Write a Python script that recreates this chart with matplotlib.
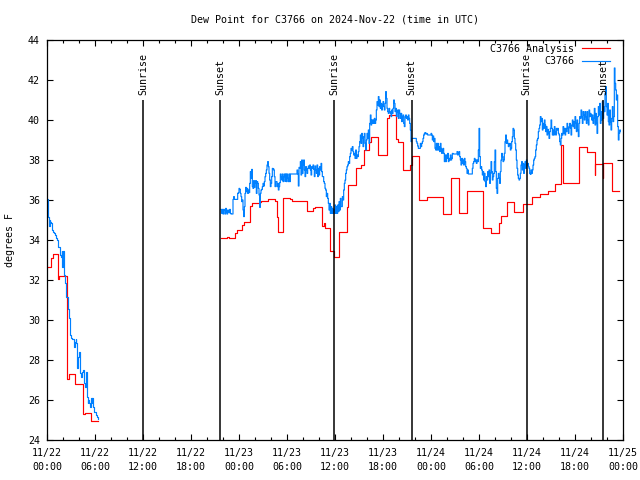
import matplotlib
matplotlib.use('Agg')
import matplotlib.pyplot as plt
import numpy as np
from matplotlib.ticker import MultipleLocator

plt.rcParams['font.family'] = ['DejaVu Sans Mono', 'DejaVu Sans']
FS = 7.2

title = "Dew Point for C3766 on 2024-Nov-22 (time in UTC)"
ylabel = "degrees F"
series_names = ["C3766 Analysis", "C3766"]

# x axis: hours since 11/22 00:00 UTC
x_tick_hours = [0, 6, 12, 18, 24, 30, 36, 42, 48, 54, 60, 66, 72]
x_tick_labels = ["11/22\n00:00", "11/22\n06:00", "11/22\n12:00", "11/22\n18:00",
                 "11/23\n00:00", "11/23\n06:00", "11/23\n12:00", "11/23\n18:00",
                 "11/24\n00:00", "11/24\n06:00", "11/24\n12:00", "11/24\n18:00",
                 "11/25\n00:00"]
y_ticks = [24, 26, 28, 30, 32, 34, 36, 38, 40, 42, 44]

sunrise_hours = [12.0, 35.92, 59.96]
sunset_hours = [21.65, 45.6, 69.55]

# Analysis (red) step series
red_a_t = [0.0, 0.45, 0.7, 1.38, 1.55, 2.55, 2.78, 3.55, 4.55, 4.8, 5.55, 6.4]
red_a_v = [32.63, 33.08, 33.28, 32.07, 32.18, 27.03, 27.28, 26.8, 25.3, 25.35, 24.95, 24.95]

red_b_t = [21.75, 22.5, 22.75, 23.5, 23.75, 24.4, 24.6, 25.4, 25.65, 26.6, 26.8, 27.65,
           28.5, 28.75, 28.85, 29.5, 30.4, 30.6, 32.5, 33.3, 33.5, 34.4, 34.6, 34.8,
           35.4, 35.9, 36.55, 37.5, 37.6, 38.6, 39.3, 39.6, 40.25, 40.5, 41.4, 42.5,
           42.75, 43.6, 43.9, 44.5, 45.4, 45.6, 46.45, 47.45, 49.5, 50.5, 51.5, 52.5,
           54.5, 55.45, 56.5, 56.7, 57.5, 58.4, 59.5, 60.6, 61.6, 62.6, 63.55, 64.3,
           64.45, 66.55, 67.45, 68.45, 68.55, 69.45, 69.55, 70.6, 71.45]
red_b_v = [34.08, 34.17, 34.12, 34.33, 34.5, 34.75, 34.92, 35.7, 35.83, 35.92, 35.97, 36.03,
           35.97, 35.17, 34.4, 36.12, 36.03, 35.97, 35.47, 35.58, 35.63, 34.7, 34.87, 34.6,
           33.45, 33.17, 34.4, 35.67, 36.75, 37.58, 37.75, 38.5, 38.92, 39.17, 38.25, 40.08,
           40.25, 39.03, 38.92, 37.5, 37.75, 38.2, 36.0, 36.17, 35.3, 37.08, 35.37, 36.47,
           34.58, 34.33, 34.87, 35.2, 35.92, 35.4, 35.8, 36.15, 36.28, 36.45, 36.8, 38.75,
           36.85, 38.63, 38.4, 37.25, 37.8, 37.1, 37.85, 36.45, 36.45]

# Observations (blue), one reading every 5 minutes
obs_step_h = 5.0 / 60.0
blue_a_start = 0.0
blue_a_v = [36.03, 35.75, 35.17, 34.7, 35.0, 34.92, 34.83, 34.67, 34.5, 34.42, 34.42, 34.37,
            34.25, 34.2, 34.1, 34.0, 33.67, 33.67, 33.63, 33.3, 33.25, 33.17, 33.45, 32.67,
            33.45, 32.5, 32.25, 31.83, 31.67, 31.17, 31.17, 30.58, 30.55, 30.08, 29.42, 29.25,
            29.08, 29.05, 29.03, 29.03, 29.0, 28.67, 28.92, 29.03, 28.83, 27.58, 28.0, 28.17,
            28.42, 28.17, 27.33, 27.17, 27.42, 27.42, 27.5, 26.92, 26.83, 26.67, 26.83, 27.42,
            26.17, 25.83, 26.0, 25.83, 25.67, 25.67, 26.08, 25.83, 26.08, 25.67, 25.5, 25.42,
            25.42, 25.42, 25.25, 25.17, 25.03]

blue_b_start = 21.75
blue_b_v = [
    # 11/22 evening
    35.53, 35.33, 35.53, 35.3, 35.53, 35.5, 35.3, 35.58, 35.42, 35.3, 35.5, 35.42, 35.37,
    35.53, 35.33, 35.3, 35.3, 35.3,
    36.03, 36.17, 36.03, 36.03, 36.03, 36.03, 36.03,
    36.33, 36.37, 36.58, 36.53, 36.33, 36.17, 35.92, 36.0, 35.5, 35.17, 35.67, 36.33, 36.63,
    36.42, 36.58, 36.33, 36.5,
    36.37, 36.83, 37.42, 37.08, 37.53, 36.67, 36.58, 36.97, 36.63, 36.83, 36.97, 36.33, 36.92,
    36.83, 36.58, 36.25, 35.63, 36.33, 36.5, 36.53, 36.67, 36.83, 36.7, 36.92, 37.17,
    37.33, 37.5, 37.75, 37.92, 37.67, 37.33, 37.0, 36.67, 36.83, 37.17, 37.58, 37.57, 37.5,
    37.17, 36.67, 36.92, 36.92, 36.67, 36.83, 36.5, 36.67, 36.87, 37.3, 37.17, 37.0,
    37.3, 36.92, 37.17, 37.3, 36.93, 37.3, 36.92, 37.3, 37.08, 36.92, 37.3, 36.92,
    37.3, 37.3, 37.3, 37.3, 37.3, 37.3, 37.3, 37.3, 37.3, 37.3, 37.5, 37.3, 36.7,
    37.63, 37.58, 37.92, 37.25, 38.0, 37.33, 37.75, 38.0, 37.5, 37.17, 37.67, 37.5, 37.33,
    37.58, 37.7, 37.58, 37.75, 37.5, 37.25, 37.67, 37.58, 37.75, 37.53, 37.17, 37.7,
    37.5, 37.33, 37.75, 37.17, 37.58, 37.25, 37.67, 37.5, 37.83, 37.42, 37.17, 37.17, 36.92,
    36.83, 36.58, 36.5, 36.17, 36.33, 36.08, 35.83, 35.5, 35.83, 35.33, 35.67, 35.33, 35.58,
    35.33, 35.5,
    # 11/23 day
    35.33, 35.75, 35.33, 35.67, 35.33, 35.75, 35.42, 35.92, 35.5, 36.08, 35.67, 35.67, 36.17,
    36.0, 36.5, 36.83, 37.0, 37.33, 37.5, 37.67, 37.75, 37.92, 37.83, 38.17, 38.33, 38.58,
    38.5, 38.67, 38.42, 38.25, 38.33, 38.08, 38.5, 38.08, 38.25, 38.17, 38.42,
    38.67, 38.92, 39.25, 38.83, 39.33, 39.08, 38.67, 39.17, 39.33, 38.83, 38.5, 39.0, 39.33,
    39.08, 39.5, 38.83, 39.83, 40.25, 39.75, 40.0, 39.83, 40.0, 39.83, 40.08, 39.83,
    40.0, 40.5, 40.92, 40.75, 41.17, 40.67, 41.0, 40.58, 40.83, 40.5, 40.75, 40.92, 40.67,
    40.5, 40.83, 41.42, 41.08, 40.58, 40.42, 40.33, 40.58, 40.42, 40.33, 40.17, 40.5,
    40.33, 40.58, 41.0, 40.83, 40.42, 40.58, 40.17, 40.42, 40.5, 40.08, 40.5, 40.33, 40.08,
    40.33, 39.92, 40.17, 40.25, 39.83, 39.67, 40.17, 40.25, 40.08, 40.17, 40.0, 40.25,
    40.08, 39.83, 39.5, 38.92, 39.08, 39.08, 39.08, 39.08, 39.08, 39.08, 39.08, 38.92, 38.83,
    38.7, 38.58, 38.58, 38.58,
    # 11/23 night - 11/24 morning
    38.83, 38.67, 38.83, 38.92, 39.08, 39.25, 39.33, 39.37, 39.3, 39.33, 39.3, 39.25, 39.25,
    39.25, 39.25, 39.25, 39.33, 39.25, 39.0, 39.2, 38.92, 39.08, 38.58,
    38.5, 38.83, 38.5, 38.83, 38.5, 38.67, 38.42, 38.83, 38.58, 38.33, 38.5, 38.58, 38.33,
    37.92, 38.25, 37.92, 38.25, 38.08, 38.33, 37.92, 38.08, 38.0, 38.25, 38.0, 38.08,
    38.33, 38.3, 38.3, 38.3, 38.3, 38.3, 38.3, 38.42, 38.25, 38.33, 38.42, 38.17, 38.0,
    37.75, 38.08, 37.83, 38.0, 37.75, 38.08, 37.92, 37.67, 37.58, 37.33, 37.5, 37.3,
    37.3, 37.3, 37.3, 37.3, 37.3, 37.58, 37.83, 37.92, 38.08, 37.92, 38.0, 37.83, 38.0,
    37.92, 38.5, 39.58, 38.17, 37.58, 37.67, 37.5, 37.25, 37.42, 37.0, 37.33, 36.92,
    36.67, 37.17, 37.0, 37.42, 37.17, 37.5, 36.83, 37.33, 37.92, 37.42, 37.0, 37.17, 37.33,
    37.92, 38.5, 37.42, 36.58, 36.33, 37.08, 37.33, 37.08, 36.83, 37.42, 38.0, 38.33,
    38.17, 37.92, 38.0, 38.33, 38.92, 39.25, 38.83, 39.0, 38.83, 38.67, 38.75, 38.83, 38.5,
    38.58, 38.92, 39.17, 39.58, 39.5, 39.08, 38.83, 38.5, 38.0, 37.58, 37.25, 37.08,
    37.0, 37.08, 37.33, 37.75, 37.92, 37.5, 37.83, 37.33, 37.75, 37.92, 37.58, 38.0, 37.75,
    37.83, 37.67, 37.58,
    # 11/24 day
    37.33, 37.28, 37.5, 37.33, 37.5, 37.75, 38.0, 38.08, 38.17, 38.5, 38.75, 39.0, 39.08,
    39.42, 39.58, 39.75, 40.17, 39.92, 40.08, 39.5, 39.83, 39.58, 40.0, 39.75, 39.42,
    39.67, 39.25, 39.53, 39.33, 39.08, 39.42, 39.58, 40.0, 39.58, 39.25, 39.5, 39.25, 39.67,
    39.42, 39.25, 39.58, 39.5, 39.58, 39.33, 39.25, 38.92, 38.75, 39.08, 39.33, 39.25,
    39.67, 39.33, 39.58, 39.25, 39.58, 39.42, 39.83, 39.58, 39.33, 39.67, 39.83, 39.58, 39.25,
    39.75, 40.0, 39.67, 39.92, 39.58, 40.17, 39.83, 39.42, 40.0, 39.5, 39.17, 39.83,
    40.17, 40.08, 40.5, 40.17, 39.83, 40.42, 40.25, 40.0, 40.42, 40.17, 39.83, 40.42, 40.0,
    39.75, 40.5, 40.17, 40.33, 40.25, 40.0, 40.25, 39.83, 40.08, 40.58, 39.75, 40.33,
    39.83, 39.33, 40.17, 40.67, 40.25, 40.83, 39.83, 40.42, 40.0, 40.92, 40.08, 40.67, 40.42,
    41.33, 41.67, 40.67, 40.25, 40.83, 39.92, 39.75, 40.5, 39.92, 39.5, 40.08, 40.67,
    39.92, 40.17, 42.6, 41.83, 41.5, 41.0, 41.25, 39.67, 39.0, 39.33, 39.5, 39.42,
]

RED = '#ff0000'
BLUE = '#0080ff'
LW = 0.85

fig = plt.figure(figsize=(6.4, 4.8), dpi=100)
ax = fig.add_axes([47 / 640, 40 / 480, 576 / 640, 400 / 480])

ax.plot(red_a_t, red_a_v, drawstyle='steps-post', color=RED, lw=LW, label=series_names[0])
ax.plot(red_b_t, red_b_v, drawstyle='steps-post', color=RED, lw=LW)

blue_a_t = blue_a_start + np.arange(len(blue_a_v)) * obs_step_h
blue_b_t = blue_b_start + np.arange(len(blue_b_v)) * obs_step_h
ax.plot(blue_a_t, blue_a_v, drawstyle='steps-post', color=BLUE, lw=LW, label=series_names[1])
ax.plot(blue_b_t, blue_b_v, drawstyle='steps-post', color=BLUE, lw=LW)

for hrs, name in ((sunrise_hours, "Sunrise"), (sunset_hours, "Sunset")):
    ax.vlines(hrs, 24, 41, colors='black', lw=1.1)
    for h in hrs:
        ax.text(h, 41.25, name, rotation=90, ha='center', va='bottom', fontsize=FS)

ax.set_xlim(0, 72)
ax.set_ylim(24, 44)
ax.set_xticks(x_tick_hours)
ax.set_xticklabels(x_tick_labels)
ax.xaxis.set_minor_locator(MultipleLocator(2))
ax.set_yticks(y_ticks)
ax.tick_params(which='both', direction='in', top=True, right=True, labelsize=FS, width=0.8)
ax.tick_params(which='major', length=4.5, pad=5)
ax.tick_params(axis='x', which='major', pad=6)
ax.tick_params(which='minor', length=2.5)
for lab in ax.get_xticklabels():
    lab.set_linespacing(1.45)
for s in ax.spines.values():
    s.set_linewidth(0.9)

ax.legend(loc='upper right', bbox_to_anchor=(1 - 13 / 576, 1 - 4 / 400), frameon=False,
          markerfirst=False, fontsize=FS, handlelength=2.8, handletextpad=0.8,
          labelspacing=0.25, borderpad=0, borderaxespad=0)

fig.text(335 / 640, 1 - 20 / 480, title, ha='center', va='center', fontsize=FS)
fig.text(10 / 640, 0.5, ylabel, rotation=90, ha='center', va='center', fontsize=FS)

fig.savefig('out.png', dpi=100)
